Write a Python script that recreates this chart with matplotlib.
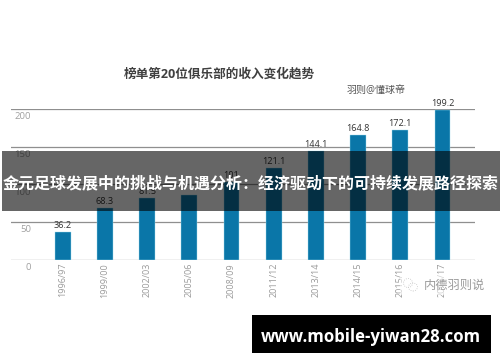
import matplotlib
matplotlib.use("Agg")
import matplotlib.pyplot as plt
from matplotlib.patches import Rectangle, Ellipse

plt.rcParams['font.family'] = ['Open Sans', 'Noto Sans CJK SC', 'DejaVu Sans']

seasons = ['1996/97', '1999/00', '2002/03', '2005/06', '2008/09',
           '2011/12', '2013/14', '2014/15', '2015/16', '2016/17']
revenue = [36.2, 68.3, 81.5, 85.7, 103, 121.1, 144.1, 164.8, 172.1, 199.2]
value_labels = ['36.2', '68.3', '81.5', '', '101', '121.1', '144.1', '164.8', '172.1', '199.2']
yticks = [0, 50, 100, 150, 200]

chart_title = '榜单第20位俱乐部的收入变化趋势'
author = '羽则@懂球帝'
watermark = '内德羽则说'
banner = '金元足球发展中的挑战与机遇分析：经济驱动下的可持续发展路径探索'
site = 'www.mobile-yiwan28.com'

W, H = 500, 362
fig = plt.figure(figsize=(W / 100, H / 100), dpi=100, facecolor='white')
ax = fig.add_axes([11 / W, (H - 259.5) / H, 464 / W, 150.5 / H])

x = range(len(seasons))
ax.bar(x, revenue, width=0.372, color='#0A76A8', edgecolor='#9fdcec',
       linewidth=0.3, zorder=3)
for xi, v, lab in zip(x, revenue, value_labels):
    ax.annotate(lab, (xi, v), xytext=(0, 1.5), textcoords='offset points',
                ha='center', va='bottom', fontsize=6.6, color='#333333', zorder=4)

ax.set_xlim(-1.225, 9.77)
ax.set_ylim(0, 200)
ax.set_xticks(list(x), seasons, rotation=90, fontsize=6.5, color='#9a9a9a')
ax.set_yticks(yticks, [str(t) for t in yticks], fontsize=6.8, color='#a0a0a0')
ax.tick_params(axis='x', length=0, pad=2.5)
ax.tick_params(axis='y', length=0, pad=-14.4)
for t in ax.get_yticklabels():
    t.set_verticalalignment('top')
    t.set_transform(t.get_transform() + matplotlib.transforms.ScaledTranslation(0, -2.5 / 72, fig.dpi_scale_trans))
ax.grid(axis='y', color='#8f8f8f', linewidth=0.9, zorder=1)
ax.set_axisbelow(True)
for s in ax.spines.values():
    s.set_visible(False)
ax.patch.set_alpha(0)


def px(xp, yp):
    return xp / W, 1 - yp / H


fig.text(*px(219.5, 74), chart_title, ha='center', va='center', fontsize=9.1,
         color='#404040', fontweight='bold')
fig.text(*px(376, 90), author, ha='center', va='center', fontsize=7.2, color='#555555')

# watermark
fig.add_artist(Rectangle(px(400, 295), 92 / W, 22 / H, transform=fig.transFigure,
                         facecolor='white', alpha=0.55, edgecolor='none', zorder=3))
fig.add_artist(Ellipse(px(408, 283), 9 / W, 9 / H, transform=fig.transFigure, fill=False,
                       edgecolor='#c4c4c4', linewidth=0.6, linestyle=':', zorder=3.5))
fig.add_artist(Ellipse(px(413, 287), 9 / W, 8 / H, transform=fig.transFigure, fill=False,
                       edgecolor='#c4c4c4', linewidth=0.6, linestyle=':', zorder=3.5))
fig.text(*px(454, 285), watermark, ha='center', va='center', fontsize=8.8,
         color='#9b9b9b', zorder=3.6)

# banner
fig.add_artist(Rectangle(px(2, 211), 498 / W, 60 / H, transform=fig.transFigure,
                         facecolor='black', alpha=0.6, edgecolor='none', zorder=5))
fig.text(*px(250.5, 184), banner, ha='center', va='center', fontsize=11.5,
         color='white', fontweight='bold', zorder=6)

# site box
fig.add_artist(Rectangle(px(252, 353), 239 / W, 38 / H, transform=fig.transFigure,
                         facecolor='black', edgecolor='none', zorder=5))
fig.text(*px(371, 336.5), site, ha='center', va='center', fontsize=12.1,
         color='white', fontweight='bold', family=['Open Sans', 'DejaVu Sans'], zorder=6)

fig.savefig('out.png', dpi=100)
